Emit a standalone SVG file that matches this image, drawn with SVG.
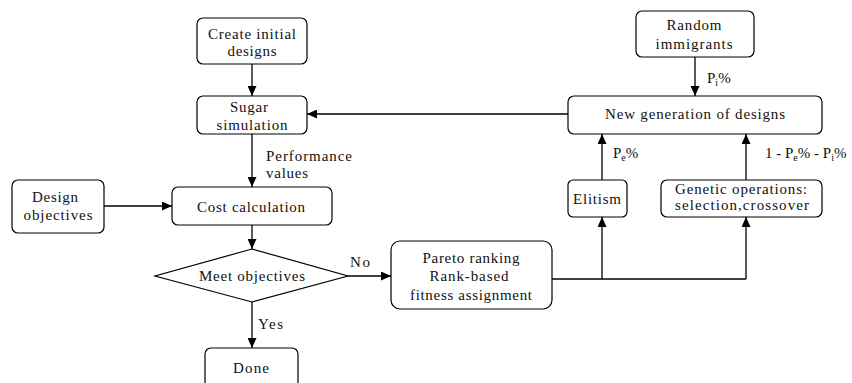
<svg xmlns="http://www.w3.org/2000/svg" width="852" height="383" viewBox="0 0 852 383">
<defs>
<marker id="ah" markerUnits="userSpaceOnUse" markerWidth="11" markerHeight="9" refX="10" refY="4.5" orient="auto">
<path d="M0,0 L10,4.5 L0,9 z" fill="#000"/>
</marker>
<style>
.box{fill:#fff;stroke:#000;stroke-width:1.2}
.ln{fill:none;stroke:#000;stroke-width:1.3}
.arr{fill:none;stroke:#000;stroke-width:1.3;marker-end:url(#ah)}
text{font-family:"Liberation Serif","Times New Roman",serif;font-size:15px;fill:#111}
.c{text-anchor:middle}
.sub{font-size:10px}
</style>
</defs>
<rect width="852" height="383" fill="#fff"/>

<g id="connectors">
<line class="arr" x1="252" y1="64" x2="252" y2="96"/>
<line class="arr" x1="568" y1="114" x2="307" y2="114"/>
<line class="arr" x1="252" y1="134" x2="252" y2="187"/>
<line class="arr" x1="104" y1="206" x2="172" y2="206"/>
<line class="arr" x1="252" y1="225" x2="252" y2="249"/>
<line class="arr" x1="348" y1="276" x2="391" y2="276"/>
<line class="arr" x1="252" y1="302" x2="252" y2="348"/>
<polyline class="ln" points="552,279 746,279"/>
<line class="arr" x1="746" y1="279" x2="746" y2="217"/>
<line class="arr" x1="602" y1="279" x2="602" y2="217"/>
<line class="arr" x1="602" y1="180" x2="602" y2="134"/>
<line class="arr" x1="746" y1="180" x2="746" y2="134"/>
<line class="arr" x1="695" y1="57" x2="695" y2="96"/>
<text x="266" y="161" textLength="86" lengthAdjust="spacing">Performance</text>
<text x="266" y="178" textLength="42" lengthAdjust="spacing">values</text>
<text x="350" y="267" textLength="20" lengthAdjust="spacing">No</text>
<text x="258" y="329" textLength="25" lengthAdjust="spacing">Yes</text>
<text x="707" y="83">P<tspan class="sub" dy="3">i</tspan><tspan dy="-3">%</tspan></text>
<text x="613" y="158">P<tspan class="sub" dy="3">e</tspan><tspan dy="-3">%</tspan></text>
<text x="765" y="158">1 - P<tspan class="sub" dy="3">e</tspan><tspan dy="-3">% - P</tspan><tspan class="sub" dy="3">i</tspan><tspan dy="-3">%</tspan></text>
</g>

<g id="create">
<rect class="box" x="197" y="18" width="110" height="46" rx="6"/>
<text class="c" x="252" y="39" textLength="88" lengthAdjust="spacing">Create initial</text>
<text class="c" x="252" y="56" textLength="49" lengthAdjust="spacing">designs</text>
</g>
<g id="sugar">
<rect class="box" x="197" y="96" width="110" height="38" rx="6"/>
<text class="c" x="249" y="112" textLength="38" lengthAdjust="spacing">Sugar</text>
<text class="c" x="252" y="130" textLength="71" lengthAdjust="spacing">simulation</text>
</g>
<g id="design-objectives">
<rect class="box" x="12" y="180" width="92" height="53" rx="6"/>
<text class="c" x="55" y="202" textLength="46" lengthAdjust="spacing">Design</text>
<text class="c" x="58" y="220" textLength="69" lengthAdjust="spacing">objectives</text>
</g>
<g id="cost">
<rect class="box" x="172" y="187" width="160" height="38" rx="6"/>
<text class="c" x="251" y="212" textLength="108" lengthAdjust="spacing">Cost calculation</text>
</g>
<g id="meet">
<polygon class="box" points="252,249 348,276 252,302 155,276"/>
<text class="c" x="252" y="281" textLength="106" lengthAdjust="spacing">Meet objectives</text>
</g>
<g id="done">
<rect class="box" x="205" y="348" width="93" height="50" rx="6"/>
<text class="c" x="251" y="373" textLength="36" lengthAdjust="spacing">Done</text>
</g>
<g id="pareto">
<rect class="box" x="391" y="241" width="161" height="68" rx="9"/>
<text class="c" x="471" y="263" textLength="97" lengthAdjust="spacing">Pareto ranking</text>
<text class="c" x="469" y="281" textLength="79" lengthAdjust="spacing">Rank-based</text>
<text class="c" x="471" y="300" textLength="122" lengthAdjust="spacing">fitness assignment</text>
</g>
<g id="elitism">
<rect class="box" x="568" y="180" width="59" height="37" rx="5"/>
<text class="c" x="597" y="204" textLength="48" lengthAdjust="spacing">Elitism</text>
</g>
<g id="genetic">
<rect class="box" x="661" y="180" width="161" height="37" rx="6"/>
<text class="c" x="741" y="194" textLength="132" lengthAdjust="spacing">Genetic operations:</text>
<text class="c" x="742" y="210" textLength="134" lengthAdjust="spacing">selection,crossover</text>
</g>
<g id="newgen">
<rect class="box" x="568" y="96" width="254" height="38" rx="6"/>
<text class="c" x="695" y="119" textLength="180" lengthAdjust="spacing">New generation of designs</text>
</g>
<g id="random">
<rect class="box" x="636" y="11" width="118" height="46" rx="6"/>
<text class="c" x="694" y="30" textLength="55" lengthAdjust="spacing">Random</text>
<text class="c" x="694" y="49" textLength="77" lengthAdjust="spacing">immigrants</text>
</g>
</svg>
